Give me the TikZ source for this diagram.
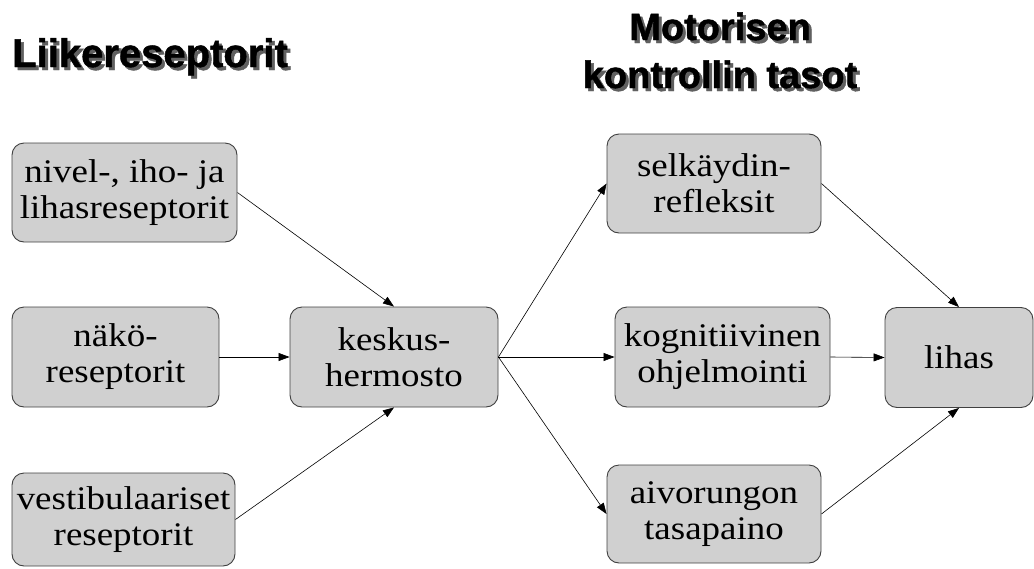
\documentclass[tikz,border=0pt]{standalone}
\usepackage{fontspec}
\setmainfont{Liberation Serif}
\newfontfamily\boxfont{Liberation Serif}[FakeStretch=1.12]
\newfontfamily\titlefont{Liberation Sans}[FakeBold=1.2]
\usetikzlibrary{arrows.meta}
\definecolor{boxfill}{HTML}{D0D0D0}
\definecolor{boxline}{HTML}{404040}
\definecolor{shadowgray}{HTML}{606060}
\newcommand\shadowed[1]{\makebox[0pt][l]{\kern3pt\raisebox{-3pt}{\color{shadowgray}#1}}#1}
\tikzset{
  box/.style={draw=boxline, line width=0.9pt, fill=boxfill, rounded corners=12pt,
    align=center, inner sep=0pt, font=\boxfont\fontsize{33}{36}\selectfont},
  titletext/.style={inner sep=0pt, font=\titlefont\bfseries\fontsize{40}{48}\selectfont},
  titletextb/.style={inner sep=0pt, font=\titlefont\bfseries\fontsize{38}{48}\selectfont},
  conn/.style={draw=black, line width=0.6pt, -{Triangle[length=11pt,width=8pt]}}
}
\begin{document}
\begin{tikzpicture}[x=1pt,y=-1pt]
\useasboundingbox (0,0) rectangle (1034,568);
% titles
\node[titletext, anchor=base west] (t1) at (12,67) {\shadowed{Liikereseptorit}};
\node[titletextb, anchor=base] (t2) at (720,40) {\shadowed{Motorisen}};
\node[titletextb, anchor=base] (t3) at (720,88) {\shadowed{kontrollin tasot}};
% boxes
\node[box, minimum width=225pt, minimum height=99pt] (nivel) at (124.5,192.5) {nivel-, iho- ja\\lihasreseptorit};
\node[box, minimum width=207pt, minimum height=100pt] (nako) at (115.5,357) {näkö-\\reseptorit};
\node[box, minimum width=223pt, minimum height=93pt] (vest) at (123.5,519.5) {vestibulaariset\\reseptorit};
\node[box, minimum width=208pt, minimum height=100pt] (kesk) at (394,357) {keskus-\\hermosto};
\node[box, minimum width=214pt, minimum height=99pt] (selk) at (714,183.5) {selkäydin-\\refleksit};
\node[box, minimum width=215pt, minimum height=100pt] (kogn) at (722.5,357) {kognitiivinen\\ohjelmointi};
\node[box, minimum width=214pt, minimum height=98pt] (aivo) at (714,514) {aivorungon\\tasapaino};
\node[box, minimum width=148pt, minimum height=100pt] (lihas) at (959,357.5) {lihas};
% connectors
\draw[conn] (nivel.east) -- (kesk.north);
\draw[conn] (nako.east) -- (kesk.west);
\draw[conn] (vest.east) -- (kesk.south);
\draw[conn] (kesk.east) -- (selk.west);
\draw[conn] (kesk.east) -- (kogn.west);
\draw[conn] (kesk.east) -- (aivo.west);
\draw[conn] (selk.east) -- (lihas.north);
\draw[conn] (kogn.east) -- (lihas.west);
\draw[conn] (aivo.east) -- (lihas.south);
\end{tikzpicture}
\end{document}
